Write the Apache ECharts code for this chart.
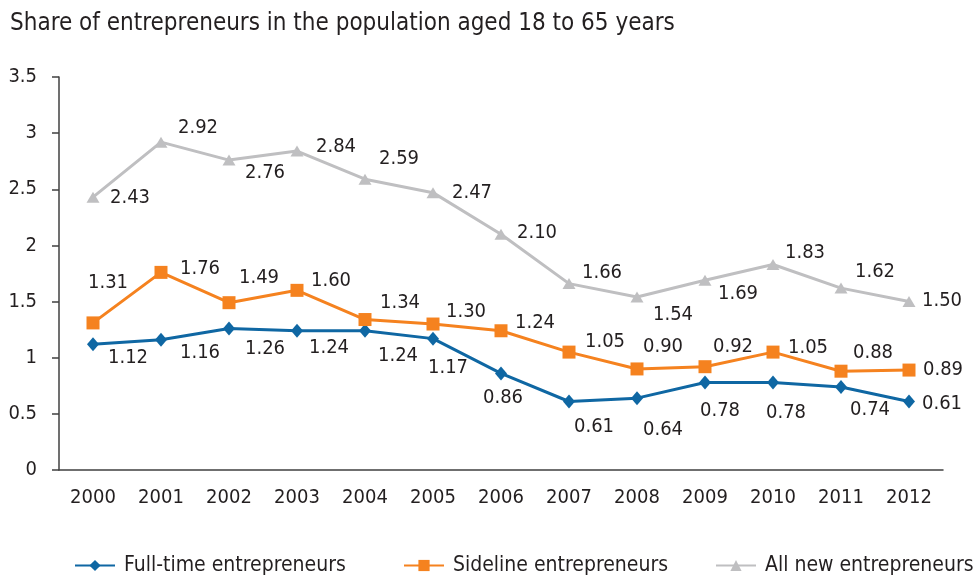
<!DOCTYPE html>
<html lang="en">
<head>
    <meta charset="UTF-8">
    <title>Share of entrepreneurs</title>
    <style>
        body{
            margin: 0;
        }
        #chart{
            width: 980px;
            height: 575px;
        }
    </style>
</head>
<body>
    <div id="chart"></div>
    <script src="https://cdn.jsdelivr.net/npm/echarts@6/dist/echarts.min.js"></script>
    <script>
        // data
        var years = ['2000','2001','2002','2003','2004','2005','2006','2007','2008','2009','2010','2011','2012'];
        var fullTime = [1.12, 1.16, 1.26, 1.24, 1.24, 1.17, 0.86, 0.61, 0.64, 0.78, 0.78, 0.74, 0.61];
        var sideline = [1.31, 1.76, 1.49, 1.60, 1.34, 1.30, 1.24, 1.05, 0.90, 0.92, 1.05, 0.88, 0.89];
        var allNew = [2.43, 2.92, 2.76, 2.84, 2.59, 2.47, 2.10, 1.66, 1.54, 1.69, 1.83, 1.62, 1.50];

        var font = "'DejaVu Sans Condensed', sans-serif";
        var textColor = '#231f20';
        var axisColor = '#404040';

        // where each value label sits relative to its point (dx, dy)
        var fullTimeNudge = [[35,14],[39,13],[36,20],[32,17],[33,25],[15,29],[2,24],[25,25],[26,32],[15,28],[13,30],[29,23],[33,2]];
        var sidelineNudge = [[15,-40],[39,-4],[30,-25],[34,-10],[35,-17],[33,-12],[34,-8],[36,-10],[26,-22],[28,-20],[35,-4],[32,-18],[34,0]];
        var allNewNudge = [[37,1],[37,-14],[36,13],[39,-4],[34,-20],[39,0],[36,-1],[33,-11],[36,18],[33,14],[32,-12],[34,-16],[33,-1]];

        function withLabels(values, nudge){
            return values.map(function(v, i){
                return {
                    value: v,
                    label: { offset: nudge[i] }
                };
            });
        }

        var labelStyle = {
            show: true,
            position: 'inside',
            fontFamily: font,
            fontSize: 20,
            color: textColor,
            formatter: function(p){
                return p.value.toFixed(2);
            }
        };

        function makeLegend(name, left){
            return {
                data: [name],
                left: left,
                top: 550,
                itemWidth: 40,
                itemHeight: 14,
                textStyle: {
                    fontFamily: font,
                    fontSize: 21,
                    color: textColor,
                    padding: [0, 0, 0, 4]
                }
            };
        }

        var myecharts = echarts.init(document.getElementById('chart'));
        var option = {
            animation: false,
            backgroundColor: '#fff',
            title: {
                text: 'Share of entrepreneurs in the population aged 18 to 65 years',
                left: 5,
                top: 7,
                textStyle: {
                    fontFamily: font,
                    fontSize: 24,
                    fontWeight: 'normal',
                    color: textColor
                }
            },
            legend: [
                makeLegend('Full-time entrepreneurs', 69),
                makeLegend('Sideline entrepreneurs', 398),
                makeLegend('All new entrepreneurs', 710)
            ],
            grid: {
                left: 59,
                right: 37,
                top: 77,
                bottom: 105
            },
            xAxis: {
                type: 'category',
                data: years,
                boundaryGap: true,
                axisLine: { lineStyle: { color: axisColor, width: 1.5 } },
                axisTick: { length: 7, lineStyle: { color: axisColor, width: 1.5 } },
                axisLabel: {
                    margin: 18,
                    fontFamily: font,
                    fontSize: 20,
                    color: textColor
                }
            },
            yAxis: {
                type: 'value',
                min: 0,
                max: 3.5,
                interval: 0.5,
                splitLine: { show: false },
                axisLine: { show: true, lineStyle: { color: axisColor, width: 1.5 } },
                axisTick: { show: true, length: 7, lineStyle: { color: axisColor, width: 1.5 } },
                axisLabel: {
                    margin: 22,
                    fontFamily: font,
                    fontSize: 20,
                    color: textColor
                }
            },
            series: [
                {
                    name: 'Full-time entrepreneurs',
                    type: 'line',
                    data: withLabels(fullTime, fullTimeNudge),
                    symbol: 'diamond',
                    symbolSize: [12, 14],
                    color: '#0f67a3',
                    lineStyle: { width: 3 },
                    label: labelStyle
                },
                {
                    name: 'Sideline entrepreneurs',
                    type: 'line',
                    data: withLabels(sideline, sidelineNudge),
                    symbol: 'rect',
                    symbolSize: 13,
                    color: '#f5821f',
                    lineStyle: { width: 3 },
                    label: labelStyle
                },
                {
                    name: 'All new entrepreneurs',
                    type: 'line',
                    data: withLabels(allNew, allNewNudge),
                    symbol: 'triangle',
                    symbolSize: [13, 11],
                    color: '#bfbfc1',
                    lineStyle: { width: 3 },
                    label: labelStyle
                }
            ]
        };
        myecharts.setOption(option);
    </script>
</body>
</html>
